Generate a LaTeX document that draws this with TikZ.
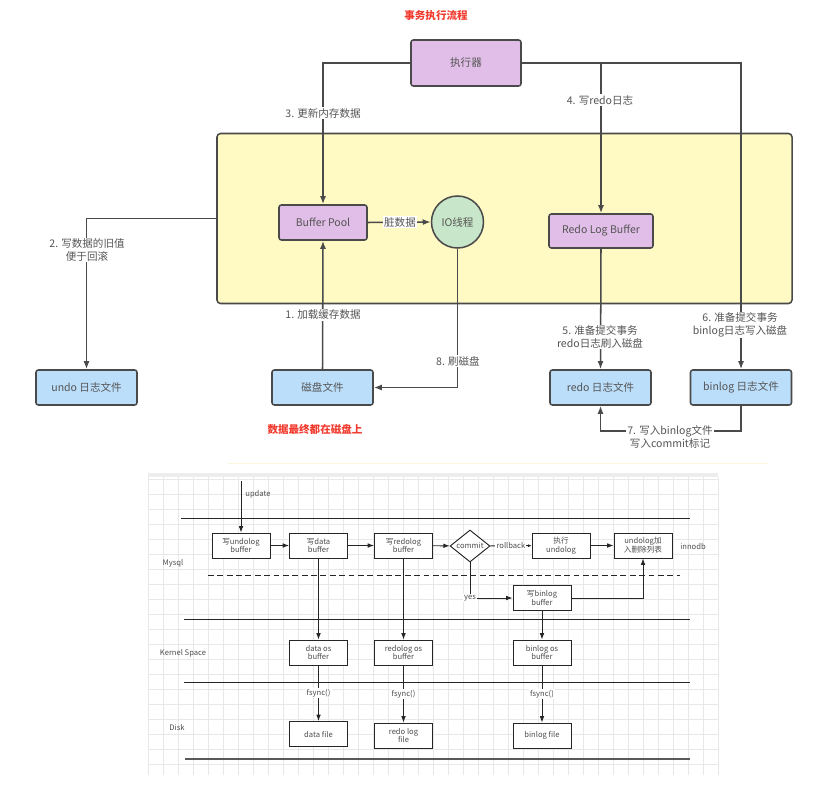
\documentclass[tikz,border=0pt]{standalone}
\usepackage{fontspec}
\setmainfont{Noto Sans CJK SC}
\usetikzlibrary{arrows.meta,shapes.geometric}

\definecolor{linegrey}{HTML}{4A4A4A}
\definecolor{txtgrey}{HTML}{555555}
\definecolor{memyellow}{HTML}{FFF9C4}
\definecolor{execpurple}{HTML}{E1BEE7}
\definecolor{fileblue}{HTML}{BBDEFB}
\definecolor{threadgreen}{HTML}{C8E6C9}
\definecolor{titlered}{HTML}{F23B2F}
\definecolor{gridline}{HTML}{E8E8E8}
\definecolor{faintyellow}{HTML}{FAF5DC}

\begin{document}
\begin{tikzpicture}[x=0.03cm,y=-0.03cm,
  topfont/.style={font=\fontsize{9}{10.8}\selectfont},
  box/.style={draw=linegrey,line width=1.3pt,rounded corners=2pt,text=txtgrey,inner sep=0pt,align=center,topfont},
  execbox/.style={box,fill=execpurple},
  filebox/.style={box,fill=fileblue,minimum width=3.03cm,minimum height=1.05cm},
  conn/.style={draw=linegrey,line width=1.3pt},
  arr/.style={conn,-{Latex[length=2.4mm,width=1.8mm]}},
  tag/.style={fill=white,text=txtgrey,inner sep=1pt,align=center,topfont},
  redtitle/.style={text=titlered,font=\bfseries\fontsize{9}{11}\selectfont},
  lane/.style={draw=black!85,line width=0.8pt},
  fbox/.style={draw=black!85,line width=0.8pt,fill=white,minimum width=1.74cm,minimum height=0.75cm,inner sep=0pt,align=center,text=black!70,font=\fontsize{6.5}{7.6}\selectfont},
  farr/.style={draw=black!85,line width=0.8pt,-{Latex[length=1.9mm,width=1.4mm]}},
  ftag/.style={fill=white,inner sep=1pt,text=black!70,font=\fontsize{6.5}{7.6}\selectfont},
]
\useasboundingbox (0,0) rectangle (836,786);

% ---- upper diagram: transaction flow ----
\node[redtitle] (title) at (436,16) {事务执行流程};
\node[box,fill=memyellow,minimum width=17.25cm,minimum height=5.1cm,rounded corners=3pt] (mem) at (504.5,218.5) {};

\node[execbox,minimum width=3.3cm,minimum height=1.38cm] (exec) at (466,63) {执行器};
\node[execbox,minimum width=2.64cm,minimum height=1.05cm] (bp) at (323,222.5) {Buffer Pool};
\node[circle,draw=linegrey,line width=1.3pt,fill=threadgreen,minimum size=1.56cm,inner sep=0pt,text=txtgrey,topfont] (io) at (457.5,222) {IO线程};
\node[execbox,minimum width=3.12cm,minimum height=1.02cm] (redobuf) at (601,231) {Redo Log Buffer};

\node[filebox] (undo) at (86.5,387.5) {undo 日志文件};
\node[filebox] (disk) at (322.5,387.5) {磁盘文件};
\node[filebox] (redofile) at (600.5,387.5) {redo 日志文件};
\node[filebox] (binfile) at (741,387.5) {binlog 日志文件};
\node[redtitle] (note) at (315,429) {数据最终都在磁盘上};

% connectors
\draw[arr] (exec.west) -| (bp.north);
\draw[arr] (exec.east) -| (binfile.north);
\draw[arr] (exec.east -| redobuf.north) -- (redobuf.north);
\draw[arr] (mem.west) -| (undo.north);
\draw[arr] (disk.north) -- (bp.south);
\draw[arr] (bp.east) -- (io.west);
\draw[arr] (io.south) |- (disk.east);
\draw[arr] (redobuf.south) -- (redofile.north);
\draw[arr] (binfile.south) -- ++(0,25) -| (redofile.south);

% step labels
\node[tag] (l3) at (323,113) {3. 更新内存数据};
\node[tag] (l4) at (600,100) {4. 写redo日志};
\node[tag] (l2) at (87,250) {2. 写数据的旧值\\便于回滚};
\node[tag] (l1) at (323,315) {1. 加载缓存数据};
\node[tag] (ldirty) at (400,222) {脏数据};
\node[tag] (l8) at (458,361) {8. 刷磁盘};
\node[tag] (l5) at (600,337) {5. 准备提交事务\\redo日志刷入磁盘};
\node[tag] (l6) at (740,325) {6. 准备提交事务\\binlog日志写入磁盘};
\node[tag] (l7) at (670,437) {7. 写入binlog文件\\写入commit标记};

% ---- lower diagram: write path over the layers ----
\draw[faintyellow,line width=0.8pt] (228,463) -- (768,463);
\fill[black!7] (148,473) rectangle (718,477);
\foreach \gx in {148,163,...,718}
  \draw[gridline,line width=0.4pt] (\gx,477) -- (\gx,775);
\foreach \gy in {479,494,...,775}
  \draw[gridline,line width=0.4pt] (148,\gy) -- (718,\gy);

% layer lines
\draw[lane] (181,518) -- (690,518);
\draw[lane,dash pattern=on 5pt off 3pt] (208,575) -- (680,575);
\draw[lane] (184,619) -- (690,619);
\draw[lane] (184,682) -- (690,682);
\draw[lane,line width=1.4pt,draw=black!65] (185,759) -- (690,759);

\node[ftag,fill=none] (lmysql) at (173,563) {Mysql};
\node[ftag,fill=none] (linno) at (693,547) {innodb};
\node[ftag,fill=none] (lkernel) at (183,653) {Kernel Space};
\node[ftag,fill=none] (ldisk) at (177,728) {Disk};

% boxes
\node[fbox] (wundo) at (241,545.5) {写undolog\\buffer};
\node[fbox] (wdata) at (318.5,545.5) {写data\\buffer};
\node[fbox] (wredo) at (403.5,545.5) {写redolog\\buffer};
\node[diamond,draw=black!85,line width=0.8pt,fill=white,aspect=1.25,inner sep=0pt,minimum width=1.2cm,minimum height=0.96cm,text=black!70,font=\fontsize{6.5}{7.6}\selectfont] (commit) at (470,546) {commit};
\node[fbox] (exundo) at (561,545.5) {执行\\undolog};
\node[fbox] (dellist) at (643,545.5) {undolog加\\入删除列表};
\node[fbox] (wbin) at (542,598) {写binlog\\buffer};
\node[fbox] (osdata) at (318.5,652.5) {data os\\buffer};
\node[fbox] (osredo) at (403.5,652.5) {redolog os\\buffer};
\node[fbox] (osbin) at (542,652.5) {binlog os\\buffer};
\node[fbox] (fdata) at (318.5,734) {data file};
\node[fbox] (fredo) at (403.5,735.5) {redo log\\file};
\node[fbox] (fbin) at (542,735.5) {binlog file};

% arrows
\coordinate (upd) at (241,481);
\draw[farr] (upd) -- (wundo.north);
\node[ftag,fill=none] (lupd) at (258,494) {update};
\draw[farr] (wundo) -- (wdata);
\draw[farr] (wdata) -- (wredo);
\draw[farr] (wredo) -- (commit);
\draw[draw=black!85,line width=0.8pt,-{Latex[length=1mm,width=0.9mm]}] (commit) -- (exundo) node[ftag,midway] (lrb) {rollback};
\draw[farr] (exundo) -- (dellist);
\draw[farr] (commit.south) |- (wbin.west) node[ftag,pos=0.5] (lyes) {yes};
\draw[farr] (wbin.east) -| (dellist.south);
\draw[farr] (wdata) -- (osdata);
\draw[farr] (wredo) -- (osredo);
\draw[farr] (wbin) -- (osbin);
\draw[farr] (osdata) -- (fdata) node[ftag,midway] (fs1) {fsync()};
\draw[farr] (osredo) -- (fredo) node[ftag,midway] (fs2) {fsync()};
\draw[farr] (osbin) -- (fbin) node[ftag,midway] (fs3) {fsync()};
\end{tikzpicture}
\end{document}
